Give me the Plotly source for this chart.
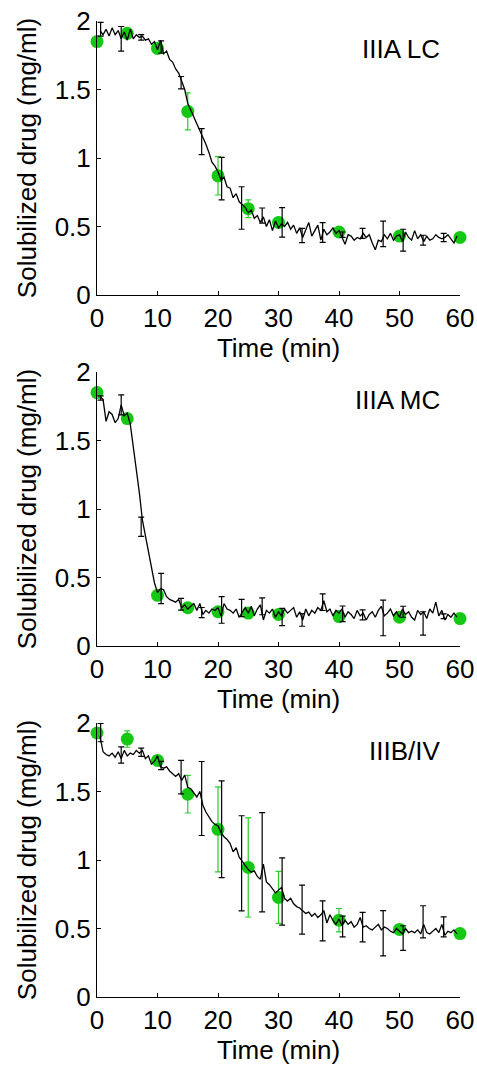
import plotly.graph_objects as go

# ---------------- data ----------------
green_t = [0, 5, 10, 15, 20, 25, 30, 40, 50, 60]
bar_t = [0.6, 4.0, 7.3, 10.6, 13.9, 17.3, 20.6, 23.9, 27.3, 30.6, 33.9, 37.3, 40.6, 43.9, 47.3, 50.6, 53.9, 57.3]
line_dt = 0.5  # sampling interval of the continuous trace (min)

# Panel 1: IIIA LC
lc_green = [1.85, 1.91, 1.80, 1.34, 0.87, 0.63, 0.53, 0.46, 0.43, 0.42]
lc_green_err = [0.02, 0.02, 0.02, 0.135, 0.14, 0.065, 0.02, 0.02, 0.02, 0.02]
lc_line = [1.93, 1.90, 1.94, 1.89, 1.95, 1.90, 1.93, 1.87, 1.92, 1.86,
           1.94, 1.87, 1.90, 1.88, 1.89, 1.86, 1.87, 1.83, 1.85, 1.79,
           1.86, 1.76, 1.78, 1.72, 1.70, 1.65, 1.62, 1.56, 1.50, 1.40,
           1.35, 1.30, 1.26, 1.20, 1.16, 1.10, 1.04, 0.97, 0.94, 0.90,
           0.84, 0.86, 0.79, 0.78, 0.71, 0.74, 0.68, 0.66, 0.64, 0.60,
           0.62, 0.56, 0.58, 0.53, 0.57, 0.50, 0.55, 0.47, 0.54, 0.49,
           0.52, 0.50, 0.53, 0.48, 0.51, 0.45, 0.49, 0.42, 0.47, 0.53,
           0.43, 0.47, 0.51, 0.40, 0.48, 0.44, 0.46, 0.49, 0.45, 0.47,
           0.42, 0.37, 0.44, 0.43, 0.40, 0.42, 0.41, 0.45, 0.42, 0.44,
           0.38, 0.33, 0.40, 0.39, 0.44, 0.41, 0.45, 0.40, 0.43, 0.44,
           0.39, 0.46, 0.42, 0.40, 0.47, 0.41, 0.44, 0.39, 0.43, 0.40,
           0.41, 0.44, 0.42, 0.41, 0.42, 0.44, 0.41, 0.38, 0.43]
lc_bar = [1.94, 1.87, 1.88, 1.81, 1.55, 1.12, 0.85, 0.635, 0.58, 0.53, 0.434, 0.456, 0.44, 0.45, 0.446, 0.40, 0.40, 0.42]
lc_bar_err = [0.05, 0.09, 0.02, 0.045, 0.045, 0.095, 0.155, 0.155, 0.055, 0.108, 0.052, 0.072, 0.02, 0.037, 0.093, 0.08, 0.036, 0.03]

# Panel 2: IIIA MC
mc_green = [1.85, 1.66, 0.37, 0.28, 0.25, 0.24, 0.23, 0.215, 0.21, 0.20]
mc_green_err = [0.015, 0.015, 0.015, 0.015, 0.015, 0.015, 0.015, 0.015, 0.015, 0.015]
mc_line = [1.82, 1.80, 1.64, 1.71, 1.69, 1.63, 1.66, 1.76, 1.68, 1.70,
           1.62, 1.46, 1.30, 1.12, 0.92, 0.80, 0.68, 0.56, 0.46, 0.39,
           0.42, 0.41, 0.36, 0.34, 0.33, 0.32, 0.34, 0.28, 0.30, 0.27,
           0.29, 0.31, 0.26, 0.31, 0.23, 0.26, 0.24, 0.27, 0.26, 0.28,
           0.22, 0.31, 0.27, 0.26, 0.24, 0.27, 0.21, 0.25, 0.28, 0.24,
           0.29, 0.22, 0.27, 0.30, 0.19, 0.26, 0.24, 0.27, 0.21, 0.25,
           0.22, 0.27, 0.24, 0.26, 0.28, 0.21, 0.25, 0.19, 0.27, 0.22,
           0.26, 0.24, 0.28, 0.26, 0.33, 0.25, 0.27, 0.22, 0.26, 0.24,
           0.27, 0.21, 0.25, 0.23, 0.20, 0.26, 0.22, 0.24, 0.19, 0.23,
           0.25, 0.21, 0.26, 0.29, 0.22, 0.24, 0.27, 0.22, 0.25, 0.21,
           0.27, 0.23, 0.25, 0.21, 0.19, 0.26, 0.23, 0.25, 0.20, 0.27,
           0.24, 0.32, 0.22, 0.26, 0.19, 0.23, 0.21, 0.24, 0.21]
mc_bar = [1.81, 1.76, 0.87, 0.42, 0.305, 0.244, 0.263, 0.278, 0.29, 0.212, 0.19, 0.32, 0.235, 0.227, 0.205, 0.25, 0.165, 0.217]
mc_bar_err = [0.015, 0.073, 0.07, 0.11, 0.043, 0.037, 0.097, 0.063, 0.062, 0.063, 0.046, 0.061, 0.057, 0.037, 0.13, 0.04, 0.085, 0.017]

# Panel 3: IIIB/IV
iv_green = [1.927, 1.883, 1.727, 1.48, 1.224, 0.946, 0.727, 0.561, 0.493, 0.463]
iv_green_err = [0.02, 0.06, 0.02, 0.137, 0.31, 0.362, 0.19, 0.085, 0.02, 0.02]
iv_line = [1.90, 1.79, 1.77, 1.76, 1.78, 1.75, 1.79, 1.74, 1.80, 1.76,
           1.78, 1.77, 1.80, 1.78, 1.80, 1.74, 1.76, 1.70, 1.72, 1.76,
           1.68, 1.67, 1.68, 1.65, 1.63, 1.61, 1.63, 1.58, 1.62, 1.53,
           1.52, 1.49, 1.46, 1.50, 1.40, 1.35, 1.31, 1.28, 1.26, 1.25,
           1.20, 1.17, 1.15, 1.12, 1.06, 1.09, 1.02, 0.99, 0.96, 0.93,
           0.91, 0.92, 0.88, 0.86, 0.97, 0.84, 0.82, 0.79, 0.76, 0.78,
           0.80, 0.72, 0.70, 0.72, 0.68, 0.66, 0.65, 0.63, 0.61, 0.62,
           0.59, 0.61, 0.58, 0.60, 0.63, 0.54, 0.60, 0.56, 0.53, 0.57,
           0.52, 0.56, 0.53, 0.55, 0.51, 0.53, 0.58, 0.51, 0.52, 0.50,
           0.49, 0.51, 0.53, 0.49, 0.51, 0.50, 0.48, 0.47, 0.50, 0.48,
           0.46, 0.50, 0.47, 0.48, 0.47, 0.49, 0.46, 0.53, 0.47, 0.46,
           0.48, 0.50, 0.47, 0.53, 0.45, 0.48, 0.47, 0.49, 0.46]
iv_bar = [1.93, 1.766, 1.787, 1.69, 1.605, 1.449, 1.224, 0.976, 0.984, 0.77, 0.638, 0.556, 0.515, 0.51, 0.465, 0.43, 0.549, 0.512]
iv_bar_err = [0.067, 0.059, 0.03, 0.03, 0.122, 0.27, 0.353, 0.347, 0.362, 0.246, 0.179, 0.146, 0.076, 0.107, 0.165, 0.09, 0.117, 0.073]

labels = ["IIIA LC", "IIIA MC", "IIIB/IV"]
x_ticks = [0, 10, 20, 30, 40, 50, 60]
y_ticks = [0, 0.5, 1, 1.5, 2]
y_ticktext = ["0", "0.5", "1", "1.5", "2"]

# ---------------- figure ----------------
W, H = 477, 1067
FONT = "Liberation Sans, Arial, Helvetica, sans-serif"
FS = 26
GREEN = "rgb(20,200,20)"
GREEN_BAR = "rgb(40,205,40)"

panels = [
    (lc_green, lc_green_err, lc_line, lc_bar, lc_bar_err),
    (mc_green, mc_green_err, mc_line, mc_bar, mc_bar_err),
    (iv_green, iv_green_err, iv_line, iv_bar, iv_bar_err),
]
# pixel positions of plot areas (top, bottom)
px_rows = [(21, 295), (372, 646), (723, 997)]
x0_px, x1_px = 97, 460

fig = go.Figure()
layout = dict(
    width=W, height=H, margin=dict(l=0, r=0, t=0, b=0),
    paper_bgcolor="white", plot_bgcolor="white", showlegend=False,
    font=dict(family=FONT, size=FS, color="black"),
)
annotations = []
for i, (g, ge, ln, bc, be) in enumerate(panels):
    k = "" if i == 0 else str(i + 1)
    xa, ya = "x" + k, "y" + k
    line_t = [line_dt * (j + 1) for j in range(len(ln))]
    fig.add_trace(go.Scatter(
        x=green_t, y=g, xaxis=xa, yaxis=ya, mode="markers",
        marker=dict(size=13, color=GREEN, line=dict(width=0)),
        error_y=dict(type="data", array=ge, visible=True, color=GREEN_BAR, thickness=1.2, width=3),
        cliponaxis=False))
    fig.add_trace(go.Scatter(
        x=line_t, y=ln, xaxis=xa, yaxis=ya, mode="lines",
        line=dict(color="black", width=1.3)))
    fig.add_trace(go.Scatter(
        x=bar_t, y=bc, xaxis=xa, yaxis=ya, mode="markers",
        marker=dict(size=1, color="rgba(0,0,0,0)"),
        error_y=dict(type="data", array=be, visible=True, color="black", thickness=1.2, width=3),
        cliponaxis=False))
    top, bot = px_rows[i]
    ydom = [(H - bot) / H, (H - top) / H]
    xkey = "xaxis" + k
    ykey = "yaxis" + k
    layout[xkey] = dict(
        domain=[x0_px / W, x1_px / W], range=[0, 60], anchor=ya,
        tickvals=x_ticks, ticks="inside", ticklen=4, tickwidth=1, tickcolor="black",
        showline=True, linecolor="black", linewidth=1, showgrid=False, zeroline=False,
        tickfont=dict(size=FS, family=FONT, color="black"),
        title=dict(text="Time (min)", font=dict(size=FS, family=FONT, color="black"), standoff=3),
        automargin=False,
    )
    layout[ykey] = dict(
        domain=ydom, range=[0, 2], anchor=xa,
        tickvals=y_ticks, ticktext=y_ticktext, ticks="inside", ticklen=4, tickwidth=1, tickcolor="black",
        showline=True, linecolor="black", linewidth=1, showgrid=False, zeroline=False,
        tickfont=dict(size=FS, family=FONT, color="black"),
        title=dict(text="Solubilized drug (mg/ml)", font=dict(size=FS, family=FONT, color="black"), standoff=10),
        automargin=False,
    )
    annotations.append(dict(
        text=labels[i], xref="paper", yref="paper",
        x=442 / W, y=(H - (top + 28)) / H, xanchor="right", yanchor="middle",
        showarrow=False, font=dict(size=FS, family=FONT, color="black")))

layout["annotations"] = annotations
fig.update_layout(**layout)
fig.write_html("out.html")
